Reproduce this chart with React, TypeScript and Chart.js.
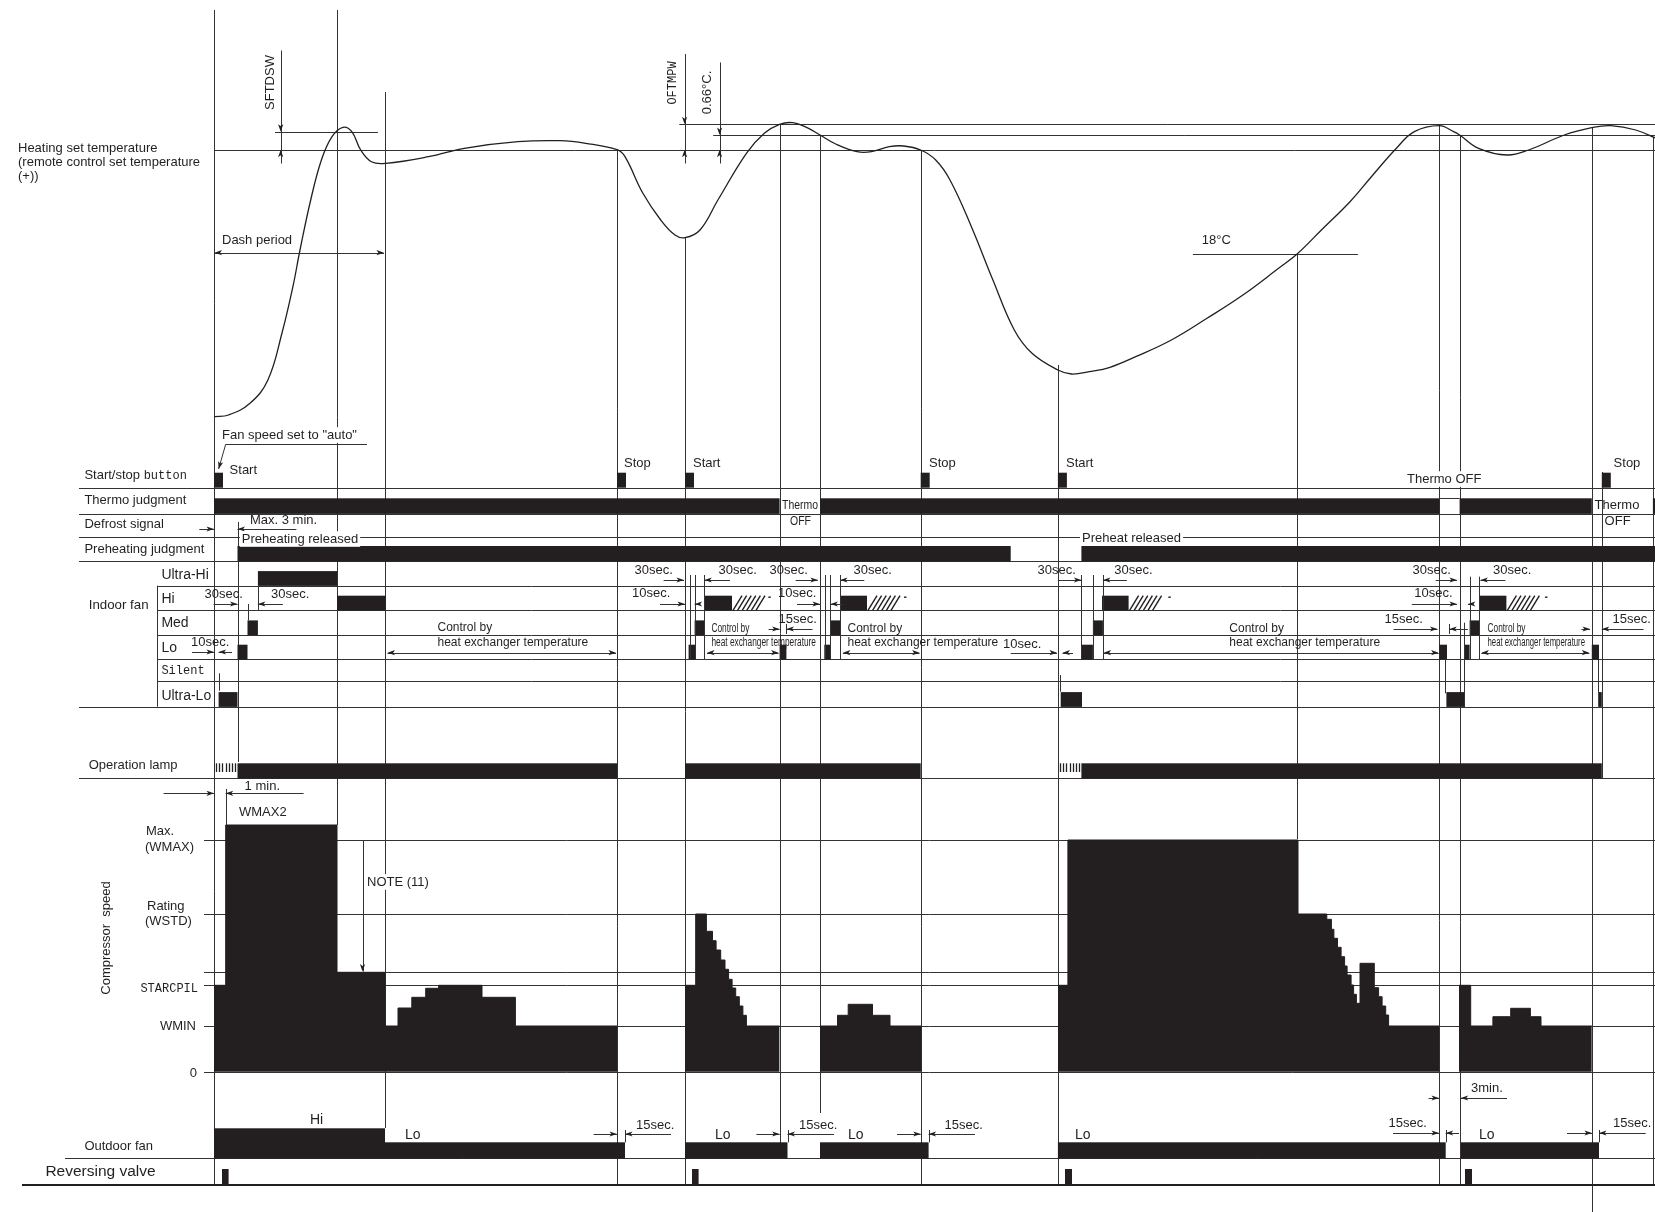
import React, { useEffect, useRef } from "react";
import { Chart, registerables } from "chart.js";

Chart.register(...registerables);

const W = 1655;
const H = 1212;
const INK = "#231f20";
const LINE_COLOR = "#333333";
const SANS = "'Liberation Sans', Arial, Helvetica, sans-serif";
const MONO = "'Liberation Mono', 'DejaVu Sans Mono', monospace";

// ================= DATA (time axis = diagram time units, level axis = diagram level units) =================

// Room temperature curve
const roomTempTime = [
  214.3, 228.6, 250, 267.9, 282, 292.9, 300, 310.7, 321.4, 332, 342.9, 351.8, 360.7, 371.4, 385.7, 428.6,
  464.3, 517.9, 560, 585.7, 617, 625, 642.9, 660.7, 675, 685, 700, 717.9, 746.4, 764.3, 779.6, 792.9,
  807.1, 820, 835.7, 857.1, 871.4, 889.3, 903.6, 920.7, 935.7, 950, 971.4, 992.9, 1014.3, 1032, 1057.9,
  1071.4, 1089.3, 1110, 1135.7, 1171.4, 1207, 1242.9, 1278.6, 1297.1, 1321.4, 1350, 1371.4, 1396.4,
  1414.3, 1439.3, 1453.6, 1459.6, 1478.6, 1507.1, 1528.6, 1564.3, 1591.8, 1610.7, 1635.7, 1660,
];
const roomTempLevel = [
  416.7, 415, 403.3, 380, 333, 286.7, 250, 200, 160, 136.7, 127.3, 131.7, 150, 161.7, 163.3, 156.7,
  148.3, 141.7, 140.7, 143.3, 149.7, 156.7, 193.3, 220, 235, 237.7, 230, 200, 153.3, 133.3, 124.3, 122.7,
  127.7, 135, 144, 151.7, 151.7, 146.7, 146, 150, 160, 180, 226.7, 280, 330, 353.3, 370,
  374, 371.7, 367.3, 356.7, 340, 318.3, 295, 268.3, 254, 230, 201.7, 176.7, 148.3,
  131.7, 125.7, 131.7, 135, 148.3, 155, 150, 135, 127.7, 125.7, 130, 140,
];

// Compressor speed levels
const SPEED_ZERO = 1071.7;
const speedTickLevels = [840, 914, 972.3, 985.3, 1026, 1071.7];
const compressorTime = [
  214, 225.7, 337, 385, 398, 411.8, 425.7, 438.6, 482, 515.4, 617, 650,
  685, 695.7, 706.4, 712.5, 716.1, 720.7, 725, 728.6, 732.1, 735.7, 739.3, 742.9, 746.4, 779.6, 800,
  820, 837.5, 848.2, 872.5, 890, 921.4, 990,
  1057.9, 1067.9, 1298, 1326.8, 1331.4, 1333.9, 1337.5, 1341.1, 1344.6, 1347.1, 1351.1, 1353.6, 1356.4,
  1360, 1374.3, 1378.6, 1382.1, 1385.7, 1388.6, 1439.3, 1450,
  1459, 1470.7, 1492.9, 1510.7, 1530.4, 1541, 1591.8,
];
const compressorLevel = [
  985.3, 825, 972.3, 1026, 1008, 997.3, 988.3, 985.3, 997.3, 1026, 1026, null,
  985.3, 914, 931.3, 940.7, 950, 960, 969.3, 979.3, 988, 996.7, 1006, 1015.3, 1026, 1026, null,
  1026, 1015.3, 1004.3, 1015.3, 1026, 1026, null,
  985.3, 840, 914, 919.3, 929.3, 938.3, 947.3, 956.7, 966, 975, 985, 994.3, 1003.3,
  963.3, 987.7, 996.7, 1006, 1015, 1026, 1026, null,
  985.3, 1026, 1016.7, 1008.3, 1016.7, 1026, 1026,
];

// Signals (on-periods as [start, end] in time units)
const startStopPresses = [214, 617, 685, 920.7, 1057.9, 1601.8];
const thermoOnPeriods = [[214, 779.6], [820, 1439.3], [1459.6, 1591.8], [1652.9, 1655]];
const preheatPeriods = [[237.5, 1010.7], [1081.4, 1655]];
const lampBlinkPeriods = [[214, 237.5], [1057.9, 1081.4]];
const lampOnPeriods = [[237.5, 617], [685, 920.7], [1081.4, 1601.8]];
const indoorFanSteps: [number, number, string][] = [
  [218.6, 237.5, "Ultra-Lo"], [237.5, 247.5, "Lo"], [247.5, 257.9, "Med"], [257.9, 337, "Ultra-Hi"], [337, 385.7, "Hi"],
  [688.6, 695.7, "Lo"], [694.6, 704.3, "Med"], [704.3, 732, "Hi"], [779.6, 786.4, "Lo"],
  [824.3, 830.7, "Lo"], [830.7, 841, "Med"], [840, 867, "Hi"],
  [1060.7, 1082, "Ultra-Lo"], [1081.4, 1092.9, "Lo"], [1092.9, 1102.9, "Med"], [1102, 1128.6, "Hi"],
  [1439.3, 1447, "Lo"], [1446.4, 1465, "Ultra-Lo"], [1464.3, 1469.6, "Lo"], [1469.6, 1479.3, "Med"], [1479.3, 1506.4, "Hi"],
  [1591.8, 1599, "Lo"], [1598.2, 1601.8, "Ultra-Lo"],
];
const indoorFanHatched = [[732, 764.3], [867, 900], [1128.6, 1164.3], [1506.4, 1541]];
const outdoorFanSteps: [number, number, string][] = [
  [214, 385, "Hi"], [385, 625, "Lo"], [685, 787.5, "Lo"], [820, 928.6, "Lo"], [1057.9, 1445.7, "Lo"], [1461, 1599, "Lo"],
];
const reversingValvePulses = [[222, 228.6], [692, 698.6], [1065, 1072], [1465, 1472]];

// ================= LAYOUT =================
const FAN_ROW_BOTTOM: Record<string, number> = {
  "Ultra-Hi": 585.7, Hi: 610.3, Med: 635, Lo: 659.3, Silent: 681, "Ultra-Lo": 706.7,
};
const OUTDOOR_LEVEL: Record<string, number> = { Hi: 1128.3, Lo: 1142.3 };
const OUTDOOR_BOTTOM = 1158.3;

const guideRows: number[][] = [
  [149.7, 214, W], [124.3, 679.3, W], [135, 713.2, W], [131.7, 275, 377.9], [254, 1192.9, 1357.9],
  [487.7, 79, W], [513.7, 79, W], [537.3, 79, W], [561.3, 79, W],
  [585.7, 157, W], [610.3, 157, W], [635, 157, W], [659.3, 157, W], [681, 157, W], [706.7, 79, W],
  [778.3, 79, W], [OUTDOOR_BOTTOM, 65, W], [498.3, 1439.3, 1459.6],
];
const eventLines: number[][] = [
  [214, 10, 1185], [337, 10, 825], [385, 92, 1128], [617, 150, 1185], [685, 238, 1185],
  [779.6, 124, 1143], [820, 135, 1113], [920.7, 150, 1185], [1057.9, 365, 1185], [1297, 254, 839],
  [1439.3, 126, 1185], [1459.6, 135, 1185], [1591.8, 128, 1212], [1601.8, 472, 778], [1652.9, 137, 1185],
  [237.5, 522, 762], [157, 585.7, 706.7],
  [280.7, 50.7, 163.3], [684.6, 54.3, 163.3], [719.6, 62.7, 163.3],
];
const plainLines: number[][] = [
  [367, 444.3, 225.7, 444.3], [225.7, 789, 225.7, 825],
  [625, 1130, 625, 1142.3], [787.5, 1130, 787.5, 1142.3], [928.6, 1130, 928.6, 1142.3],
  [1445.7, 1130, 1445.7, 1142.3], [1599, 1130, 1599, 1142.3],
  [786.4, 624, 786.4, 634], [1449.3, 624, 1449.3, 634],
  [218.6, 673.3, 218.6, 690.7], [247.5, 604, 247.5, 620.3], [257.9, 585.7, 257.9, 610.3],
  [690.4, 575, 690.4, 659.3], [694.6, 575, 694.6, 659.3], [704.3, 575, 704.3, 659.3],
  [825, 575, 825, 659.3], [830.4, 575, 830.4, 659.3], [840, 575, 840, 659.3],
  [1060, 675, 1060, 691.7], [1081.4, 575, 1081.4, 659.3], [1092.9, 575, 1092.9, 659.3], [1102.9, 575, 1102.9, 659.3],
  [1444.6, 659.3, 1444.6, 693.3], [1464.3, 622.7, 1464.3, 706.7], [1469.6, 576.7, 1469.6, 659.3], [1479.3, 576.7, 1479.3, 659.3],
  [1598.2, 659.3, 1598.2, 693.3],
];
const arrows: number[][] = [
  [300, 252.7, 214.5, 252.7], [300, 252.7, 384, 252.7],
  [280.7, 50.7, 280.7, 131.7], [280.7, 163.3, 280.7, 149.7],
  [684.6, 54.3, 684.6, 124.3], [684.6, 163.3, 684.6, 149.7],
  [719.6, 62.7, 719.6, 135], [719.6, 163.3, 719.6, 149.7],
  [225.7, 444.3, 218.6, 469],
  [199.3, 529, 214, 529], [296.4, 529, 237.5, 529],
  [213.6, 604, 237.5, 604], [282.9, 604, 257.9, 604],
  [192, 652, 214, 652], [232, 652, 218.6, 652],
  [500, 652.7, 387.5, 652.7], [500, 652.7, 616, 652.7],
  [663.6, 580, 684, 580], [730, 580, 704.3, 580],
  [660, 604, 685, 604], [700, 604, 694.6, 604],
  [740, 652.7, 707, 652.7], [740, 652.7, 778.6, 652.7],
  [795.7, 580, 817.9, 580], [864.3, 580, 840, 580],
  [797, 604, 820, 604], [843, 604, 830.4, 604],
  [768.6, 629, 779.6, 629], [812.5, 629, 786.4, 629],
  [880, 652.7, 842.9, 652.7], [880, 652.7, 919.6, 652.7],
  [1010.7, 652.7, 1057, 652.7], [1073, 652.7, 1062.5, 652.7],
  [1057.9, 580, 1081.4, 580], [1126.8, 580, 1102.9, 580],
  [1270, 652.7, 1103.6, 652.7], [1270, 652.7, 1438.6, 652.7],
  [1393.6, 629, 1437.5, 629], [1467.9, 629, 1449.3, 629],
  [1435.7, 580, 1457, 580], [1505.4, 580, 1480.4, 580],
  [1411.8, 604, 1457, 604], [1473, 604, 1467.9, 604],
  [1535, 652.7, 1481.4, 652.7], [1535, 652.7, 1589.3, 652.7],
  [1581.4, 629, 1590, 629], [1643.6, 629, 1601.8, 629],
  [163.6, 793.3, 214, 793.3], [303.6, 793.3, 225.7, 793.3],
  [362.5, 840, 362.5, 971.5],
  [593.6, 1134, 617, 1134], [671, 1134, 625, 1134],
  [756.4, 1134, 779.6, 1134], [834, 1134, 787.5, 1134],
  [897, 1134, 920.7, 1134], [975, 1134, 928.6, 1134],
  [1393, 1133, 1439, 1133], [1459, 1133, 1445.7, 1133],
  [1428.6, 1098, 1439, 1098], [1507, 1098, 1460.7, 1098],
  [1567, 1133, 1592, 1133], [1645.7, 1133, 1599, 1133],
];

type TextItem = { t: string; x: number; y: number; size?: number; mono?: boolean; align?: string; rot?: boolean; bg?: boolean; w?: number };
const texts: TextItem[] = [
  { t: "Heating set temperature", x: 18, y: 148.5 },
  { t: "(remote control set temperature", x: 18, y: 162.5 },
  { t: "(+))", x: 18, y: 176.5 },
  { t: "Thermo judgment", x: 84.4, y: 500.5 },
  { t: "Defrost signal", x: 84.4, y: 524.6 },
  { t: "Preheating judgment", x: 84.4, y: 549.5 },
  { t: "Indoor fan", x: 88.7, y: 605, size: 13.3 },
  { t: "Ultra-Hi", x: 161.4, y: 575, size: 14 },
  { t: "Hi", x: 161.4, y: 599.3, size: 14 },
  { t: "Med", x: 161.4, y: 623.3, size: 14 },
  { t: "Lo", x: 161.4, y: 648.3, size: 14 },
  { t: "Silent", x: 161.4, y: 670.7, size: 12, mono: true },
  { t: "Ultra-Lo", x: 161.4, y: 695.7, size: 14 },
  { t: "Operation lamp", x: 88.7, y: 765.5 },
  { t: "Compressor  speed", x: 106, y: 938, rot: true },
  { t: "Max.", x: 146, y: 831.7 },
  { t: "(WMAX)", x: 145, y: 847 },
  { t: "Rating", x: 147, y: 906.7 },
  { t: "(WSTD)", x: 145, y: 921 },
  { t: "STARCPIL", x: 198, y: 989, size: 12, mono: true, align: "right" },
  { t: "WMIN", x: 196, y: 1026.7, align: "right" },
  { t: "0", x: 197, y: 1073, align: "right" },
  { t: "Outdoor fan", x: 84.4, y: 1146.5 },
  { t: "Reversing valve", x: 45.4, y: 1172, size: 15.5 },
  { t: "SFTDSW", x: 270.7, y: 82.5, rot: true },
  { t: "OFTMPW", x: 673, y: 83, rot: true, mono: true, size: 12 },
  { t: "0.66°C.", x: 707, y: 92.5, rot: true },
  { t: "18°C", x: 1201.8, y: 240.7 },
  { t: "Dash period", x: 222, y: 240 },
  { t: "Fan speed set to \"auto\"", x: 222, y: 435, bg: true },
  { t: "Start", x: 229.6, y: 470 },
  { t: "Stop", x: 624, y: 463 },
  { t: "Start", x: 693, y: 463 },
  { t: "Stop", x: 929, y: 463 },
  { t: "Start", x: 1066, y: 463 },
  { t: "Stop", x: 1613.6, y: 463 },
  { t: "Thermo OFF", x: 1407, y: 479, bg: true },
  { t: "Thermo", x: 782, y: 505.7, w: 36 },
  { t: "OFF", x: 790, y: 521.7, w: 21 },
  { t: "Thermo", x: 1594.6, y: 505.7 },
  { t: "OFF", x: 1604.6, y: 521.7 },
  { t: "Max. 3 min.", x: 250, y: 520.7 },
  { t: "Preheating released", x: 241.8, y: 539, bg: true },
  { t: "Preheat released", x: 1082, y: 538, bg: true },
  { t: "30sec.", x: 204.6, y: 594.3 },
  { t: "30sec.", x: 271, y: 594.3 },
  { t: "10sec.", x: 191, y: 642.3 },
  { t: "Control by", x: 437.5, y: 627.7, size: 12 },
  { t: "heat exchanger temperature", x: 437.5, y: 642.3, size: 12 },
  { t: "30sec.", x: 634.6, y: 570 },
  { t: "30sec.", x: 718.6, y: 570 },
  { t: "30sec.", x: 769.6, y: 570 },
  { t: "30sec.", x: 853.6, y: 570 },
  { t: "10sec.", x: 632, y: 593.7 },
  { t: "10sec.", x: 778, y: 593.7 },
  { t: "15sec.", x: 778.6, y: 619 },
  { t: "Control by", x: 711.4, y: 628.3, size: 12, w: 38 },
  { t: "heat exchanger temperature", x: 711.4, y: 642.7, size: 12, w: 104.6 },
  { t: "Control by", x: 847.5, y: 628.3, size: 12 },
  { t: "heat exchanger temperature", x: 847.5, y: 642.7, size: 12 },
  { t: "10sec.", x: 1003, y: 644 },
  { t: "30sec.", x: 1037.5, y: 570 },
  { t: "30sec.", x: 1114.3, y: 570 },
  { t: "Control by", x: 1229.3, y: 628.3, size: 12 },
  { t: "heat exchanger temperature", x: 1229.3, y: 642.7, size: 12 },
  { t: "15sec.", x: 1384.6, y: 619 },
  { t: "30sec.", x: 1412.5, y: 570 },
  { t: "30sec.", x: 1493, y: 570 },
  { t: "10sec.", x: 1414.3, y: 593.7 },
  { t: "Control by", x: 1487.5, y: 628.3, size: 12, w: 38 },
  { t: "heat exchanger temperature", x: 1487.5, y: 642.7, size: 12, w: 97.5 },
  { t: "15sec.", x: 1612.5, y: 619 },
  { t: "1 min.", x: 244.6, y: 786 },
  { t: "WMAX2", x: 239, y: 812.7 },
  { t: "NOTE (11)", x: 367, y: 882, bg: true },
  { t: "Hi", x: 310, y: 1120, size: 14 },
  { t: "Lo", x: 405, y: 1135, size: 14 },
  { t: "Lo", x: 715, y: 1135, size: 14 },
  { t: "Lo", x: 848, y: 1135, size: 14 },
  { t: "Lo", x: 1075, y: 1135, size: 14 },
  { t: "Lo", x: 1479, y: 1135, size: 14 },
  { t: "15sec.", x: 636, y: 1125 },
  { t: "15sec.", x: 799, y: 1125 },
  { t: "15sec.", x: 944.6, y: 1125 },
  { t: "15sec.", x: 1388.6, y: 1123 },
  { t: "15sec.", x: 1613, y: 1123 },
  { t: "3min.", x: 1471, y: 1088 },
];

// ================= DRAW HELPERS =================
function hLine(ctx: any, x1: number, x2: number, y: number) {
  const yy = Math.round(y) + 0.5;
  ctx.beginPath();
  ctx.moveTo(x1, yy);
  ctx.lineTo(x2, yy);
  ctx.stroke();
}
function vLine(ctx: any, x: number, y1: number, y2: number) {
  const xx = Math.round(x) + 0.5;
  ctx.beginPath();
  ctx.moveTo(xx, y1);
  ctx.lineTo(xx, y2);
  ctx.stroke();
}
function anyLine(ctx: any, x1: number, y1: number, x2: number, y2: number) {
  if (Math.abs(y1 - y2) < 0.01) return hLine(ctx, x1, x2, y1);
  if (Math.abs(x1 - x2) < 0.01) return vLine(ctx, x1, y1, y2);
  ctx.beginPath();
  ctx.moveTo(x1, y1);
  ctx.lineTo(x2, y2);
  ctx.stroke();
}
function arrow(ctx: any, x1: number, y1: number, x2: number, y2: number) {
  anyLine(ctx, x1, y1, x2, y2);
  const a = Math.atan2(y2 - y1, x2 - x1);
  const len = 7.5;
  const half = 2.6;
  const bx = x2 - len * Math.cos(a);
  const by = y2 - len * Math.sin(a);
  ctx.beginPath();
  ctx.moveTo(x2, y2);
  ctx.lineTo(bx + half * Math.sin(a), by - half * Math.cos(a));
  ctx.lineTo(x2 - len * 0.75 * Math.cos(a), y2 - len * 0.75 * Math.sin(a));
  ctx.lineTo(bx - half * Math.sin(a), by + half * Math.cos(a));
  ctx.closePath();
  ctx.fill();
}
function drawText(ctx: any, item: TextItem, X: (v: number) => number, Y: (v: number) => number) {
  const size = item.size ?? 13;
  ctx.save();
  ctx.font = `${size}px ${item.mono ? MONO : SANS}`;
  ctx.textBaseline = "middle";
  const x = X(item.x);
  const y = Y(item.y);
  if (item.rot) {
    ctx.translate(x, y);
    ctx.rotate(-Math.PI / 2);
    ctx.textAlign = "center";
    ctx.fillStyle = INK;
    ctx.fillText(item.t, 0, 0);
    ctx.restore();
    return;
  }
  const align = item.align ?? "left";
  ctx.textAlign = align;
  if (item.bg) {
    const w = item.w ?? ctx.measureText(item.t).width;
    const left = align === "right" ? x - w : align === "center" ? x - w / 2 : x;
    ctx.fillStyle = "#fff";
    ctx.fillRect(left - 2, y - size * 0.6, w + 4, size * 1.2);
  }
  ctx.fillStyle = INK;
  if (item.w) ctx.fillText(item.t, x, y, item.w);
  else ctx.fillText(item.t, x, y);
  ctx.restore();
}

const timingPlugin = {
  id: "timingDiagram",
  beforeDraw(chart: any) {
    const { ctx, width, height } = chart;
    ctx.save();
    ctx.fillStyle = "#fff";
    ctx.fillRect(0, 0, width, height);
    ctx.restore();
  },
  beforeDatasetsDraw(chart: any) {
    const ctx = chart.ctx;
    const X = (v: number) => chart.scales.x.getPixelForValue(v);
    const Y = (v: number) => chart.scales.y.getPixelForValue(v);
    ctx.save();
    ctx.strokeStyle = LINE_COLOR;
    ctx.lineWidth = 1;
    for (const [y, x1, x2] of guideRows) hLine(ctx, X(x1), X(x2), Y(y));
    for (const lv of speedTickLevels) hLine(ctx, X(204), X(W), Y(lv));
    for (const [x, y1, y2] of eventLines) vLine(ctx, X(x), Y(y1), Y(y2));
    ctx.restore();
  },
  afterDatasetsDraw(chart: any) {
    const ctx = chart.ctx;
    const X = (v: number) => chart.scales.x.getPixelForValue(v);
    const Y = (v: number) => chart.scales.y.getPixelForValue(v);
    const rect = (x1: number, y1: number, x2: number, y2: number) =>
      ctx.fillRect(X(x1), Y(y1), X(x2) - X(x1), Y(y2) - Y(y1));
    ctx.save();
    ctx.fillStyle = INK;
    ctx.strokeStyle = LINE_COLOR;
    ctx.lineWidth = 1;

    for (const t of startStopPresses) rect(t, 472.7, t + 9, 487.7);
    for (const [a, b] of thermoOnPeriods) rect(a, 498.3, b, 513.9);
    for (const [a, b] of preheatPeriods) rect(a, 546, b, 561.5);
    for (const [a, b] of lampOnPeriods) rect(a, 763.3, b, 778.5);
    ctx.save();
    ctx.strokeStyle = INK;
    ctx.lineWidth = 1.3;
    for (const [a, b] of lampBlinkPeriods) {
      for (let t = a + 2; t < b - 0.5; t += 3.2) vLine(ctx, X(t), Y(763.3), Y(772));
    }
    ctx.restore();
    for (const [a, b, lvl] of indoorFanSteps) {
      const bot = FAN_ROW_BOTTOM[lvl];
      rect(a, bot - 14.6, b, bot + 0.2);
    }
    ctx.save();
    ctx.strokeStyle = INK;
    ctx.lineWidth = 1.4;
    for (const [a, b] of indoorFanHatched) {
      const top = Y(FAN_ROW_BOTTOM.Hi - 14.6);
      const bot = Y(FAN_ROW_BOTTOM.Hi);
      for (let t = a + 1; t <= b - 8; t += 4.6) {
        ctx.beginPath();
        ctx.moveTo(X(t), bot);
        ctx.lineTo(X(t + 9), top);
        ctx.stroke();
      }
      ctx.beginPath();
      ctx.moveTo(X(b + 4), top + 1.5);
      ctx.lineTo(X(b + 6.5), top + 1.5);
      ctx.stroke();
    }
    ctx.restore();
    for (const [a, b, lvl] of outdoorFanSteps) rect(a, OUTDOOR_LEVEL[lvl], b, OUTDOOR_BOTTOM + 0.3);
    for (const [a, b] of reversingValvePulses) rect(a, 1169, b, 1185);
    rect(22, 1184, W, 1186);

    for (const [x1, y1, x2, y2] of plainLines) anyLine(ctx, X(x1), Y(y1), X(x2), Y(y2));
    ctx.fillStyle = INK;
    for (const [x1, y1, x2, y2] of arrows) arrow(ctx, X(x1), Y(y1), X(x2), Y(y2));

    for (const item of texts) drawText(ctx, item, X, Y);
    ctx.font = `13px ${SANS}`;
    ctx.textBaseline = "middle";
    ctx.textAlign = "left";
    ctx.fillStyle = INK;
    const sx = X(84.4);
    const sy = Y(475);
    ctx.fillText("Start/stop", sx, sy);
    const w1 = ctx.measureText("Start/stop ").width;
    ctx.font = `12px ${MONO}`;
    ctx.fillText("button", sx + w1, sy + 0.5);
    ctx.restore();
  },
};

export default function App() {
  const ref = useRef<HTMLCanvasElement | null>(null);
  useEffect(() => {
    document.body.style.margin = "0";
    document.body.style.overflow = "hidden";
    const canvas = ref.current;
    if (!canvas) return;
    const chart = new Chart(canvas, {
      type: "line",
      data: {
        datasets: [
          {
            label: "Room temperature",
            data: roomTempTime.map((x, i) => ({ x, y: roomTempLevel[i] })),
            borderColor: INK,
            borderWidth: 1.3,
            pointRadius: 0,
            tension: 0.4,
            fill: false,
          },
          {
            label: "Compressor speed",
            data: compressorTime.map((x, i) => ({ x, y: compressorLevel[i] })),
            stepped: "before",
            borderColor: INK,
            backgroundColor: INK,
            borderWidth: 1,
            pointRadius: 0,
            spanGaps: false,
            fill: { value: SPEED_ZERO },
          },
        ],
      } as any,
      options: {
        responsive: false,
        maintainAspectRatio: false,
        animation: false,
        devicePixelRatio: 1,
        events: [],
        layout: { padding: 0 },
        scales: {
          x: { type: "linear", min: 0, max: W, display: false },
          y: { type: "linear", min: 0, max: H, reverse: true, display: false },
        },
        plugins: { legend: { display: false }, tooltip: { enabled: false } },
      } as any,
      plugins: [timingPlugin as any],
    });
    return () => chart.destroy();
  }, []);
  return <canvas ref={ref} width={W} height={H} style={{ display: "block", width: W, height: H }} />;
}
